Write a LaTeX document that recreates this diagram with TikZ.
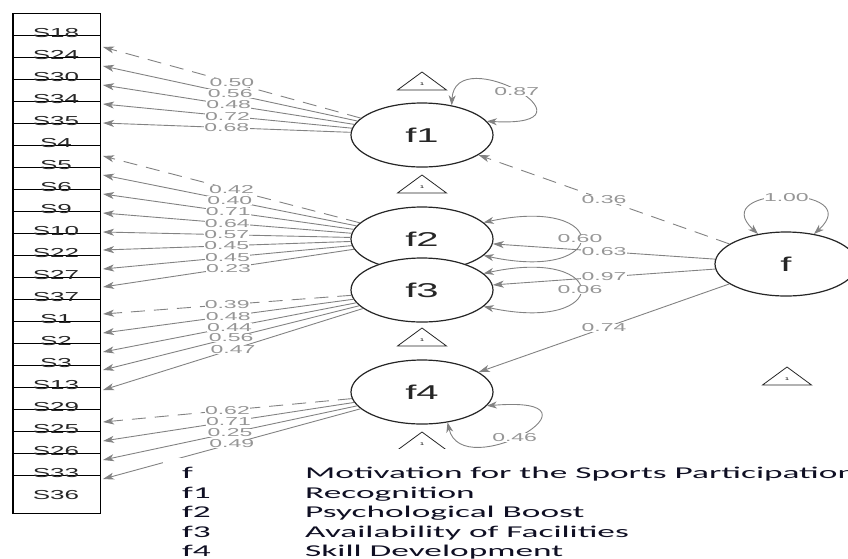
\documentclass[tikz,border=0pt]{standalone}
\usepackage{fontspec}
\newfontfamily\semfont[FakeStretch=2]{Liberation Sans}
\newfontfamily\keyfont[FakeStretch=2.14]{Carlito}
\usetikzlibrary{arrows.meta,shapes.geometric}
\definecolor{edgegray}{RGB}{130,130,130}
\definecolor{labelgray}{RGB}{150,150,150}
\definecolor{keyink}{RGB}{15,15,35}

\begin{document}
\begin{tikzpicture}[
  x=1pt,y=-1pt,
  lat/.style={ellipse,draw=black!85,line width=1.2pt,fill=white,minimum width=142pt,minimum height=64pt,inner sep=0pt,font=\semfont\fontsize{20}{20}\selectfont,text=black!85},
  item/.style={inner sep=0pt,font=\semfont\fontsize{13}{13}\selectfont,text=black!85},
  one/.style={inner sep=0pt,font=\semfont\fontsize{4}{4}\selectfont},
  tri/.style={draw=black!85,line width=0.8pt},
  a/.style={edgegray,line width=0.9pt,-{Stealth[length=11pt,width=7pt,inset=3pt]}},
  v/.style={edgegray,line width=0.9pt,{Stealth[length=10pt,width=7pt,inset=3pt]}-{Stealth[length=10pt,width=7pt,inset=3pt]}},
  fixd/.style={dash pattern=on 14pt off 9pt},
  lbl/.style={fill=white,inner sep=0.3pt,text=labelgray,font=\semfont\fontsize{11.5}{11.5}\selectfont},
  key/.style={anchor=base west,inner sep=0pt,text=keyink,font=\keyfont\fontsize{16.5}{16.5}\selectfont}
]
\useasboundingbox (0,0) rectangle (848,558);

% observed variables
\draw[line width=1pt] (12,13) rectangle (100,513);
\draw[line width=1.8pt] (13,13) -- (13,513);
\foreach \k in {1,...,21}
  \draw[line width=1pt] (12,13+22*\k) -- (100,13+22*\k);
\foreach \s [count=\k] in {S18,S24,S30,S34,S35,S4,S5,S6,S9,S10,S22,S27,S37,S1,S2,S3,S13,S29,S25,S26,S33,S36}
  \node[item] (\s) at (56,11+22*\k) {\s};
\foreach \y [count=\k] in {47,66,85,104,123,156,175,194,213,232,250,269,287,314,333,352,370,390,422,441,460,479}
  \coordinate (t\k) at (103,\y);

% latent variables
\node[lat] (f1) at (422,135) {f1};
\node[lat] (f2) at (422,239) {f2};
\node[lat] (f3) at (422,290) {f3};
\node[lat] (f4) at (422,392) {f4};
\node[lat] (f) at (786,264) {f};

% intercepts
\foreach \x/\y [count=\k] in {422/84,422/187,422/340,422/444,787/379}{
  \node[one] (i\k) at (\x,\y) {1};
  \draw[tri] (i\k.center) ++(0,-12) -- ++(24.5,18) -- ++(-49,0) -- cycle;
}

% loadings
\draw[a,fixd] (f1) -- node[lbl]{0.50} (t1);
\foreach \k/\v in {2/0.56,3/0.48,4/0.72,5/0.68}
  \draw[a] (f1) -- node[lbl]{\v} (t\k);
\draw[a,fixd] (f2) -- node[lbl]{0.42} (t6);
\foreach \k/\v in {7/0.40,8/0.71,9/0.64,10/0.57,11/0.45,12/0.45,13/0.23}
  \draw[a] (f2) -- node[lbl]{\v} (t\k);
\draw[a,fixd] (f3) -- node[lbl]{0.39} (t14);
\foreach \k/\v in {15/0.48,16/0.44,17/0.56,18/0.47}
  \draw[a] (f3) -- node[lbl]{\v} (t\k);
\draw[a,fixd] (f4) -- node[lbl]{0.62} (t19);
\foreach \k/\v in {20/0.71,21/0.25,22/0.49}
  \draw[a] (f4) -- node[lbl]{\v} (t\k);

% second order
\draw[a,fixd] (f) -- node[lbl]{0.36} (f1);
\draw[a] (f) -- node[lbl]{0.63} (f2);
\draw[a] (f) -- node[lbl]{0.97} (f3);
\draw[a] (f) -- node[lbl]{0.74} (f4);

% variances
\draw[v] (f1.45) .. controls (455,40) and (610,128) .. (f1.12) node[lbl,pos=0.5]{0.87};
\draw[v] (f2.15) .. controls (612,195) and (612,283) .. (f2.-15) node[lbl,pos=0.5]{0.60};
\draw[v] (f3.15) .. controls (612,246) and (612,334) .. (f3.-15) node[lbl,pos=0.5]{0.06};
\draw[v] (f4.-12) .. controls (620,395) and (462,485) .. (f4.-50) node[lbl,pos=0.55]{0.46};
\draw[v] (f.133) .. controls (705,185) and (868,185) .. (f.47) node[lbl,pos=0.5]{1.00};

% legend
\fill[white] (163,558) -- (163,458) -- (255,458) -- (255,449) -- (848,449) -- (848,558) -- cycle;
\foreach \a/\b [count=\k] in {f/Motivation for the Sports Participation,f1/Recognition,f2/Psychological Boost,f3/Availability of Facilities,f4/Skill Development}{
  \node[key] (k\a) at (182,459+19.5*\k) {\a};
  \node[key] (d\a) at (305,459+19.5*\k) {\b};
}
\end{tikzpicture}
\end{document}
